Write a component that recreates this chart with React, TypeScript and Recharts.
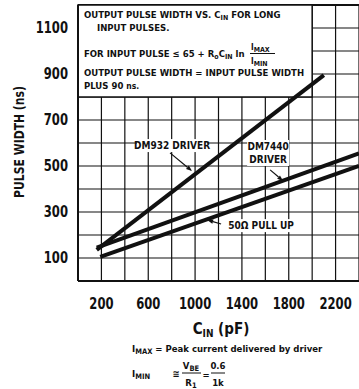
import React from "react";
import { LineChart, Line, XAxis, YAxis, ReferenceLine, ReferenceArea, ReferenceDot } from "recharts";

const FONT = "'Liberation Sans Narrow', 'DejaVu Sans Condensed', sans-serif";

// curves: C_IN (pF) -> pulse width (ns)
const dm932Cin = [160, 2100];
const dm932Width = [135, 895];
const dm7440Cin = [160, 2400];
const dm7440Width = [145, 555];
const pullUpCin = [190, 2400];
const pullUpWidth = [105, 500];

const xTicks = [200, 600, 1000, 1400, 1800, 2200];
const yTicks = [100, 300, 500, 700, 900, 1100];
const gridX = [200, 400, 600, 800, 1000, 1200, 1400, 1600, 1800, 2000, 2200, 2400];
const gridY = [100, 200, 300, 400, 500, 600, 700, 800, 900, 1000, 1100, 1200];

const toRows = (xs: number[], ys: number[]) => xs.map((x, i) => ({ cin: x, width: ys[i] }));

const XTick = ({ x, y, payload }: any) => (
  <text transform={`translate(${x},${y + 20}) scale(0.86,1)`} textAnchor="middle" fontFamily={FONT} fontWeight="bold" fontSize={15} fill="#111">
    {payload.value}
  </text>
);

const YTick = ({ y, payload }: any) => (
  <text transform={`translate(68,${y + 5}) scale(0.86,1)`} textAnchor="end" fontFamily={FONT} fontWeight="bold" fontSize={15} fill="#111">
    {payload.value}
  </text>
);

const Leader = ({ x1, y1, x2, y2 }: any) => {
  const a = Math.atan2(y2 - y1, x2 - x1);
  const l = 6, w = 2.2;
  const bx = x2 - l * Math.cos(a), by = y2 - l * Math.sin(a);
  const px = -Math.sin(a) * w, py = Math.cos(a) * w;
  return (
    <g>
      <line x1={x1} y1={y1} x2={bx} y2={by} stroke="#111" strokeWidth={1.2} />
      <polygon points={`${x2},${y2} ${bx + px},${by + py} ${bx - px},${by - py}`} fill="#111" />
    </g>
  );
};

const Tag = (lines: string[], w: number) => ({ cx, cy }: any) => (
  <g>
    <rect x={cx - w / 2} y={cy - 6} width={w} height={lines.length * 13} fill="#fff" />
    {lines.map((t, i) => (
      <text key={i} x={cx} y={cy + 4 + i * 13} textAnchor="middle" fontFamily={FONT} fontWeight="bold" fontSize={10} fill="#111">
        {t}
      </text>
    ))}
  </g>
);

const BoxText = ({ cx, cy }: any) => {
  const t = { fontFamily: FONT, fontWeight: "bold" as const, fontSize: 9.5, fill: "#111" };
  const x = cx + 6;
  return (
    <g>
      <text x={x} y={cy + 13} {...t}>
        OUTPUT PULSE WIDTH VS. C<tspan dy={2} fontSize={7}>IN</tspan><tspan dy={-2}> FOR LONG</tspan>
      </text>
      <text x={cx + 19} y={cy + 26} {...t}>INPUT PULSES.</text>
      <text x={x} y={cy + 52} {...t}>
        FOR INPUT PULSE ≤ 65 + R<tspan dy={2} fontSize={7}>o</tspan><tspan dy={-2}>C</tspan>
        <tspan dy={2} fontSize={7}>IN</tspan><tspan dy={-2}> ln</tspan>
      </text>
      <text x={cx + 173} y={cy + 45} {...t} fontSize={8}>I<tspan dy={1.5} fontSize={7}>MAX</tspan></text>
      <line x1={cx + 172} x2={cx + 197} y1={cy + 48.5} y2={cy + 48.5} stroke="#111" strokeWidth={1} />
      <text x={cx + 173} y={cy + 59} {...t} fontSize={8}>I<tspan dy={1.5} fontSize={7}>MIN</tspan></text>
      <text x={x} y={cy + 71} {...t}>OUTPUT PULSE WIDTH = INPUT PULSE WIDTH</text>
      <text x={x} y={cy + 84} {...t}>
        PLUS 90 <tspan fontSize={8.5}>ns.</tspan>
      </text>
    </g>
  );
};

export default function App() {
  const t = { fontFamily: FONT, fontWeight: "bold" as const, fill: "#111" };
  return (
    <div style={{ position: "absolute", left: 0, top: 0, width: 359, height: 389, background: "#fff" }}>
      <LineChart width={359} height={389} margin={{ top: 5, right: 0, left: 0, bottom: 88 }}>
        <XAxis
          type="number"
          dataKey="cin"
          domain={[0, 2400]}
          ticks={xTicks}
          tick={<XTick />}
          tickLine={false}
          axisLine={{ stroke: "#111", strokeWidth: 2 }}
          height={20}
          allowDataOverflow
        />
        <YAxis
          type="number"
          domain={[0, 1200]}
          ticks={yTicks}
          tick={<YTick />}
          tickLine={false}
          axisLine={{ stroke: "#111", strokeWidth: 2 }}
          width={78}
          allowDataOverflow
        />
        {gridX.map((v) => (
          <ReferenceLine key={`gx${v}`} x={v} stroke="#111" strokeWidth={1.2} zIndex={50} />
        ))}
        {gridY.map((v) => (
          <ReferenceLine key={`gy${v}`} y={v} stroke="#111" strokeWidth={v === 1200 ? 2 : 1.2} zIndex={50} />
        ))}
        <ReferenceArea x1={0} x2={2000} y1={800} y2={1200} fill="#fff" fillOpacity={1} stroke="#111" strokeWidth={1.5} zIndex={60} />
        <ReferenceDot x={0} y={1200} r={0} shape={<BoxText />} zIndex={70} ifOverflow="visible" />
        <Line data={toRows(dm932Cin, dm932Width)} dataKey="width" stroke="#111" strokeWidth={4} dot={false} isAnimationActive={false} />
        <Line data={toRows(dm7440Cin, dm7440Width)} dataKey="width" stroke="#111" strokeWidth={4} dot={false} isAnimationActive={false} />
        <Line data={toRows(pullUpCin, pullUpWidth)} dataKey="width" stroke="#111" strokeWidth={4} dot={false} isAnimationActive={false} />
        <ReferenceDot x={803} y={591} r={0} shape={Tag(["DM932 DRIVER"], 70)} zIndex={450} />
        <ReferenceDot x={1624} y={587} r={0} shape={Tag(["DM7440", "DRIVER"], 42)} zIndex={450} />
        <ReferenceDot x={1564} y={243} r={0} shape={Tag(["50Ω PULL UP"], 64)} zIndex={450} />
        <ReferenceLine segment={[{ x: 786, y: 557 }, { x: 974, y: 478 }]} shape={<Leader />} zIndex={460} />
        <ReferenceLine segment={[{ x: 1641, y: 483 }, { x: 1752, y: 435 }]} shape={<Leader />} zIndex={460} />
        <ReferenceLine segment={[{ x: 1222, y: 248 }, { x: 1103, y: 265 }]} shape={<Leader />} zIndex={460} />
      </LineChart>
      <svg width={359} height={389} style={{ position: "absolute", left: 0, top: 0, pointerEvents: "none" }}>
        <text transform="translate(24,142) rotate(-90) scale(0.86,1)" textAnchor="middle" fontSize={14} {...t}>
          PULSE WIDTH (ns)
        </text>
        <text x={221} y={334} textAnchor="middle" fontSize={15} {...t}>
          C<tspan dy={3} fontSize={10}>IN</tspan><tspan dy={-3}> (pF)</tspan>
        </text>
        <text x={132} y={352} fontSize={9.5} {...t}>
          I<tspan dy={1.5} fontSize={7.5}>MAX</tspan><tspan dy={-1.5}> = Peak current delivered by driver</tspan>
        </text>
        <text x={132} y={377} fontSize={9.5} {...t}>
          I<tspan dy={1.5} fontSize={7.5}>MIN</tspan>
        </text>
        <text x={176} y={377} textAnchor="middle" fontSize={9.5} {...t}>≅</text>
        <text x={191} y={369} textAnchor="middle" fontSize={9.5} {...t}>
          V<tspan dy={1.5} fontSize={7.5}>BE</tspan>
        </text>
        <line x1={182} x2={201} y1={373} y2={373} stroke="#111" strokeWidth={1} />
        <text x={191} y={386} textAnchor="middle" fontSize={9.5} {...t}>
          R<tspan dy={1.5} fontSize={7.5}>1</tspan>
        </text>
        <text x={206} y={378} textAnchor="middle" fontSize={9.5} {...t}>=</text>
        <text x={218} y={369} textAnchor="middle" fontSize={9.5} {...t}>0.6</text>
        <line x1={211} x2={225} y1={373} y2={373} stroke="#111" strokeWidth={1} />
        <text x={218} y={386} textAnchor="middle" fontSize={9.5} {...t}>1k</text>
      </svg>
    </div>
  );
}
